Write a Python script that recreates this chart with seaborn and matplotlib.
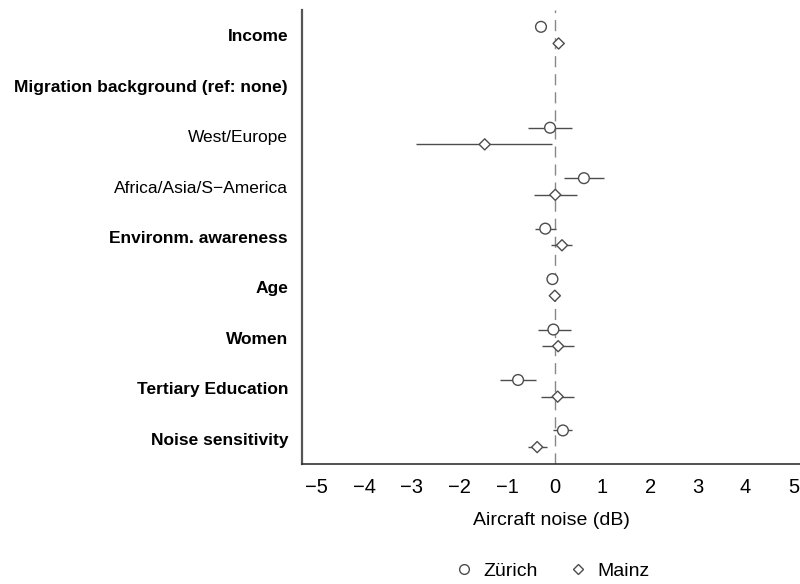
import matplotlib
matplotlib.use("Agg")
import matplotlib.pyplot as plt
import numpy as np
import pandas as pd
import seaborn as sns

# Rows of the coefficient plot (top to bottom)
row_labels = [
    "Income",
    "Migration background (ref: none)",
    "West/Europe",
    "Africa/Asia/S\u2212America",
    "Environm. awareness",
    "Age",
    "Women",
    "Tertiary Education",
    "Noise sensitivity",
]
bold_rows = [True, True, False, False, True, True, True, True, True]

# Estimates and confidence limits (NaN = reference row)
zurich_est = [-0.29, np.nan, -0.10, 0.61, -0.20, -0.05, -0.03, -0.77, 0.17]
zurich_lo = [-0.40, np.nan, -0.57, 0.19, -0.42, -0.08, -0.36, -1.15, -0.04]
zurich_hi = [-0.18, np.nan, 0.36, 1.03, 0.02, -0.02, 0.33, -0.39, 0.36]

mainz_est = [0.08, np.nan, -1.47, 0.01, 0.15, 0.00, 0.07, 0.06, -0.37]
mainz_lo = [0.02, np.nan, -2.90, -0.44, -0.09, -0.03, -0.27, -0.29, -0.56]
mainz_hi = [0.19, np.nan, -0.06, 0.46, 0.37, 0.03, 0.40, 0.41, -0.17]

cities = ["Z\u00fcrich", "Mainz"]
x_ticks = [-5, -4, -3, -2, -1, 0, 1, 2, 3, 4, 5]

rows = np.arange(len(row_labels))
df = pd.concat(
    [
        pd.DataFrame({"row": rows - 0.165, "est": zurich_est, "lo": zurich_lo,
                      "hi": zurich_hi, "city": cities[0]}),
        pd.DataFrame({"row": rows + 0.165, "est": mainz_est, "lo": mainz_lo,
                      "hi": mainz_hi, "city": cities[1]}),
    ],
    ignore_index=True,
).dropna()

sns.set_style("white")
plt.rcParams["font.family"] = ["Liberation Sans", "DejaVu Sans"]
plt.rcParams["text.color"] = "black"
plt.rcParams["xtick.color"] = "black"
plt.rcParams["ytick.color"] = "black"
plt.rcParams["axes.labelcolor"] = "black"

fig = plt.figure(figsize=(8, 5.84), dpi=100)
ax = fig.add_axes([0.3775, 0.2055, 0.6225, 0.7775])

line_col = "#4d4d4d"
ax.axvline(0, color="#888888", lw=1, ls=(0, (8, 5)), zorder=1)
ax.hlines(df["row"], df["lo"], df["hi"], color=line_col, lw=1, zorder=2)

sns.scatterplot(
    data=df, x="est", y="row", style="city", style_order=cities,
    markers={cities[0]: "o", cities[1]: "D"},
    color="white", edgecolor=line_col, linewidth=1,
    size="city", sizes={cities[0]: 60, cities[1]: 32},
    ax=ax, zorder=3, legend=False,
)

ax.set_xlim(-5.3, 5.14)
ax.set_ylim(len(row_labels) - 0.5, -0.5)
ax.set_xticks(x_ticks)
ax.set_xticklabels([str(t).replace("-", "\u2212") for t in x_ticks], fontsize=14.5)
ax.set_yticks(rows)
ax.set_yticklabels(row_labels, fontsize=12.5)
for lab, b in zip(ax.get_yticklabels(), bold_rows):
    lab.set_fontweight("bold" if b else "normal")
ax.tick_params(axis="y", length=0, pad=10)
ax.tick_params(axis="x", length=0, pad=10)
ax.set_xlabel("Aircraft noise (dB)", fontsize=14, labelpad=11)
ax.set_ylabel("")

for side in ["top", "right"]:
    ax.spines[side].set_visible(False)
ax.spines["left"].set_color("#555555")
ax.spines["left"].set_linewidth(1.6)
ax.spines["bottom"].set_color("#333333")
ax.spines["bottom"].set_linewidth(1.2)

handles = [
    plt.Line2D([], [], marker="o", ls="", markersize=7, markerfacecolor="white",
               markeredgecolor=line_col, label=cities[0]),
    plt.Line2D([], [], marker="D", ls="", markersize=5, markerfacecolor="white",
               markeredgecolor=line_col, label=cities[1]),
]
fig.legend(handles=handles, loc="center", bbox_to_anchor=(0.69, 0.022), ncol=2,
           frameon=False, fontsize=14, handlelength=1.0, handletextpad=0.5,
           columnspacing=1.6)

fig.savefig("out.png", dpi=100)
